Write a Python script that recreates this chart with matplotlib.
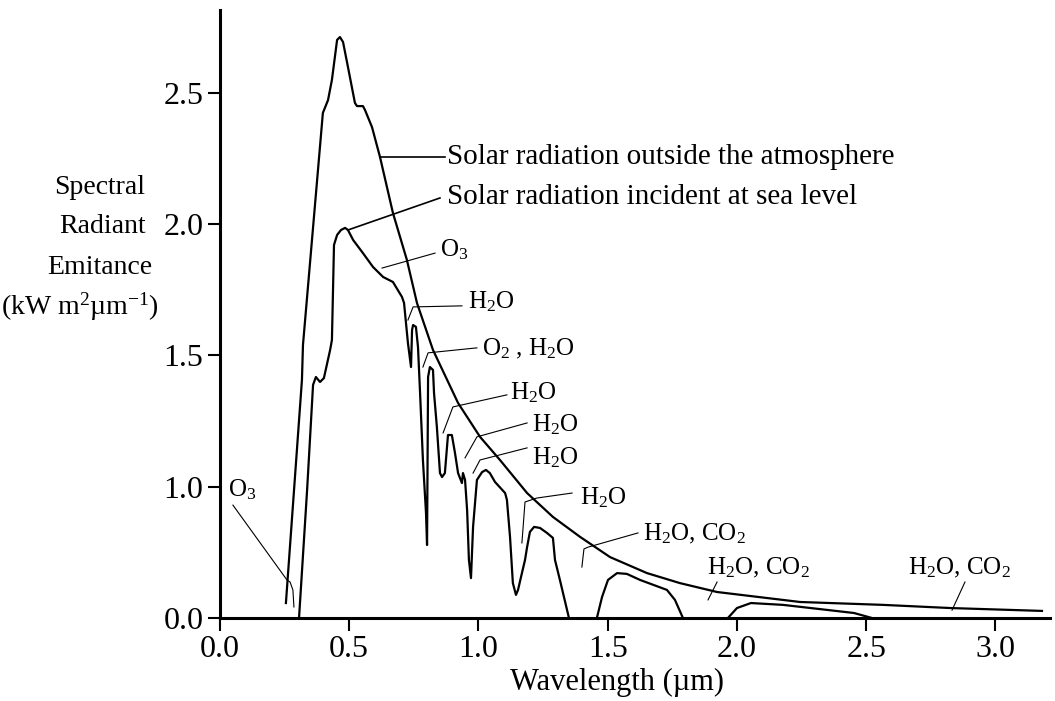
import numpy as np
import matplotlib.pyplot as plt

plt.rcParams['font.family'] = ['Liberation Serif', 'DejaVu Serif']
plt.rcParams['mathtext.fontset'] = 'custom'
plt.rcParams['mathtext.rm'] = 'Liberation Serif'
plt.rcParams['mathtext.it'] = 'Liberation Serif:italic'

# solar radiation outside the atmosphere (wavelength um, emitance)
outer_wl = [0.255, 0.317, 0.321, 0.398, 0.418, 0.433, 0.453, 0.464, 0.476,
            0.495, 0.522, 0.530, 0.553, 0.561, 0.588, 0.619, 0.669, 0.723,
            0.762, 0.824, 0.921, 1.006, 1.083, 1.188, 1.288, 1.393, 1.509,
            1.652, 1.779, 1.923, 2.244, 2.565, 2.824, 3.180]
outer_val = [0.057, 0.907, 1.040, 1.924, 1.973, 2.050, 2.202, 2.213, 2.194,
             2.099, 1.962, 1.950, 1.950, 1.935, 1.870, 1.756, 1.543, 1.364,
             1.200, 1.021, 0.819, 0.690, 0.602, 0.476, 0.385, 0.309, 0.232,
             0.171, 0.133, 0.099, 0.061, 0.050, 0.038, 0.027]

# solar radiation incident at sea level, three bands between the opaque gaps
sea1_wl = [0.306, 0.337, 0.360, 0.371, 0.387, 0.402, 0.426, 0.433, 0.441,
           0.453, 0.468, 0.484, 0.495, 0.515, 0.553, 0.592, 0.631, 0.669,
           0.704, 0.712, 0.727, 0.739, 0.743, 0.747, 0.758, 0.766, 0.774,
           0.785, 0.797, 0.801, 0.805, 0.812, 0.824, 0.828, 0.839, 0.851,
           0.859, 0.870, 0.882, 0.897, 0.909, 0.921, 0.936, 0.940, 0.948,
           0.956, 0.963, 0.971, 0.979, 0.994, 1.014, 1.029, 1.044, 1.064,
           1.103, 1.110, 1.122, 1.133, 1.145, 1.153, 1.168, 1.180, 1.188,
           1.199, 1.215, 1.238, 1.265, 1.288, 1.296, 1.315, 1.350]
sea1_val = [0.004, 0.488, 0.888, 0.918, 0.899, 0.914, 1.021, 1.059, 1.421,
            1.459, 1.478, 1.486, 1.478, 1.440, 1.390, 1.337, 1.299, 1.280,
            1.223, 1.200, 1.048, 0.956, 1.097, 1.116, 1.109, 1.032, 0.857,
            0.602, 0.400, 0.278, 0.918, 0.956, 0.945, 0.857, 0.728, 0.552,
            0.537, 0.552, 0.697, 0.697, 0.629, 0.552, 0.514, 0.552, 0.526,
            0.411, 0.221, 0.152, 0.347, 0.526, 0.556, 0.564, 0.552, 0.518,
            0.476, 0.450, 0.309, 0.133, 0.088, 0.107, 0.171, 0.221, 0.270,
            0.328, 0.347, 0.343, 0.324, 0.305, 0.221, 0.145, 0.0]
sea2_wl = [1.458, 1.478, 1.501, 1.536, 1.574, 1.625, 1.729, 1.760, 1.791]
sea2_val = [0.0, 0.080, 0.145, 0.171, 0.168, 0.145, 0.107, 0.069, 0.0]
sea3_wl = [1.965, 2.000, 2.054, 2.178, 2.453, 2.522]
sea3_val = [0.0, 0.038, 0.057, 0.050, 0.019, 0.0]

# y tick labels as printed on the original figure
ytick_vals = [0.0, 0.5, 1.0, 1.5, 2.0]
ytick_text = ['0.0', '1.0', '1.5', '2.0', '2.5']
xtick_vals = [0.0, 0.5, 1.0, 1.5, 2.0, 2.5, 3.0]

# absorber labels: text, text anchor, leader line
bands = [
    ('O$_3$', (0.031, 0.488), [(0.050, 0.430), (0.259, 0.145), (0.271, 0.137), (0.282, 0.107), (0.286, 0.042)]),
    ('O$_3$', (0.851, 1.402), [(0.627, 1.333), (0.832, 1.390)]),
    ('H$_2$O', (0.959, 1.205), [(0.727, 1.135), (0.747, 1.185), (0.936, 1.189)]),
    ('O$_2$ , H$_2$O', (1.014, 1.025), [(0.785, 0.956), (0.805, 1.010), (0.994, 1.029)]),
    ('H$_2$O', (1.122, 0.860), [(0.863, 0.705), (0.901, 0.804), (1.110, 0.850)]),
    ('H$_2$O', (1.207, 0.735), [(0.948, 0.610), (0.994, 0.690), (1.188, 0.743)]),
    ('H$_2$O', (1.207, 0.610), [(0.979, 0.552), (1.006, 0.602), (1.188, 0.648)]),
    ('H$_2$O', (1.393, 0.460), [(1.168, 0.286), (1.180, 0.442), (1.226, 0.457), (1.362, 0.476)]),
    ('H$_2$O, CO$_2$', (1.636, 0.322), [(1.400, 0.194), (1.408, 0.263), (1.424, 0.270), (1.617, 0.324)]),
    ('H$_2$O, CO$_2$', (1.884, 0.190), [(1.888, 0.069), (1.923, 0.137)]),
    ('H$_2$O, CO$_2$', (2.662, 0.190), [(2.832, 0.030), (2.882, 0.137)]),
]

ylabel_lines = ['Spectral', 'Radiant', 'Emitance', '(kW m$^{2}$µm$^{-1}$)']

fig = plt.figure(figsize=(10.55, 7.01), dpi=100)
ax = fig.add_axes([220 / 1055, 83 / 701, 830 / 1055, 608 / 701])

ax.plot(outer_wl, outer_val, color='black', lw=1.6)
for wl, val in [(sea1_wl, sea1_val), (sea2_wl, sea2_val), (sea3_wl, sea3_val)]:
    ax.plot(wl, val, color='black', lw=1.6)

# curve names
ax.plot([0.619, 0.870], [1.756, 1.756], color='black', lw=1.2)
ax.text(0.878, 1.756, 'Solar radiation outside the atmosphere', fontsize=21, va='center')
ax.plot([0.495, 0.851], [1.478, 1.600], color='black', lw=1.2)
ax.text(0.878, 1.604, 'Solar radiation incident at sea level', fontsize=21, va='center')

for txt, (tx, ty), pts in bands:
    px, py = zip(*pts)
    ax.plot(px, py, color='black', lw=0.8)
    ax.text(tx, ty, txt, fontsize=18, va='center')

ax.set_xlim(0, 3.211)
ax.set_ylim(0, 2.316)
ax.set_xticks(xtick_vals)
ax.set_xticklabels(['%.1f' % v for v in xtick_vals])
ax.set_yticks(ytick_vals)
ax.set_yticklabels(ytick_text)
ax.tick_params(direction='out', length=9, width=1.5, labelsize=23, pad=3)
for s in ['top', 'right']:
    ax.spines[s].set_visible(False)
for s in ['left', 'bottom']:
    ax.spines[s].set_linewidth(2.2)

ax.set_xlabel('Wavelength (µm)', fontsize=22, labelpad=0)
ax.xaxis.set_label_coords(0.478, -0.082)

# y label written line by line, as in the original
ylabel_x = [100, 103, 100, 80]
ylabel_y = [187, 227, 268, 307]
for txt, lx, ly in zip(ylabel_lines, ylabel_x, ylabel_y):
    fig.text(lx / 1055, 1 - ly / 701, txt, fontsize=20, ha='center', va='center')

fig.savefig('out.png', dpi=100)
